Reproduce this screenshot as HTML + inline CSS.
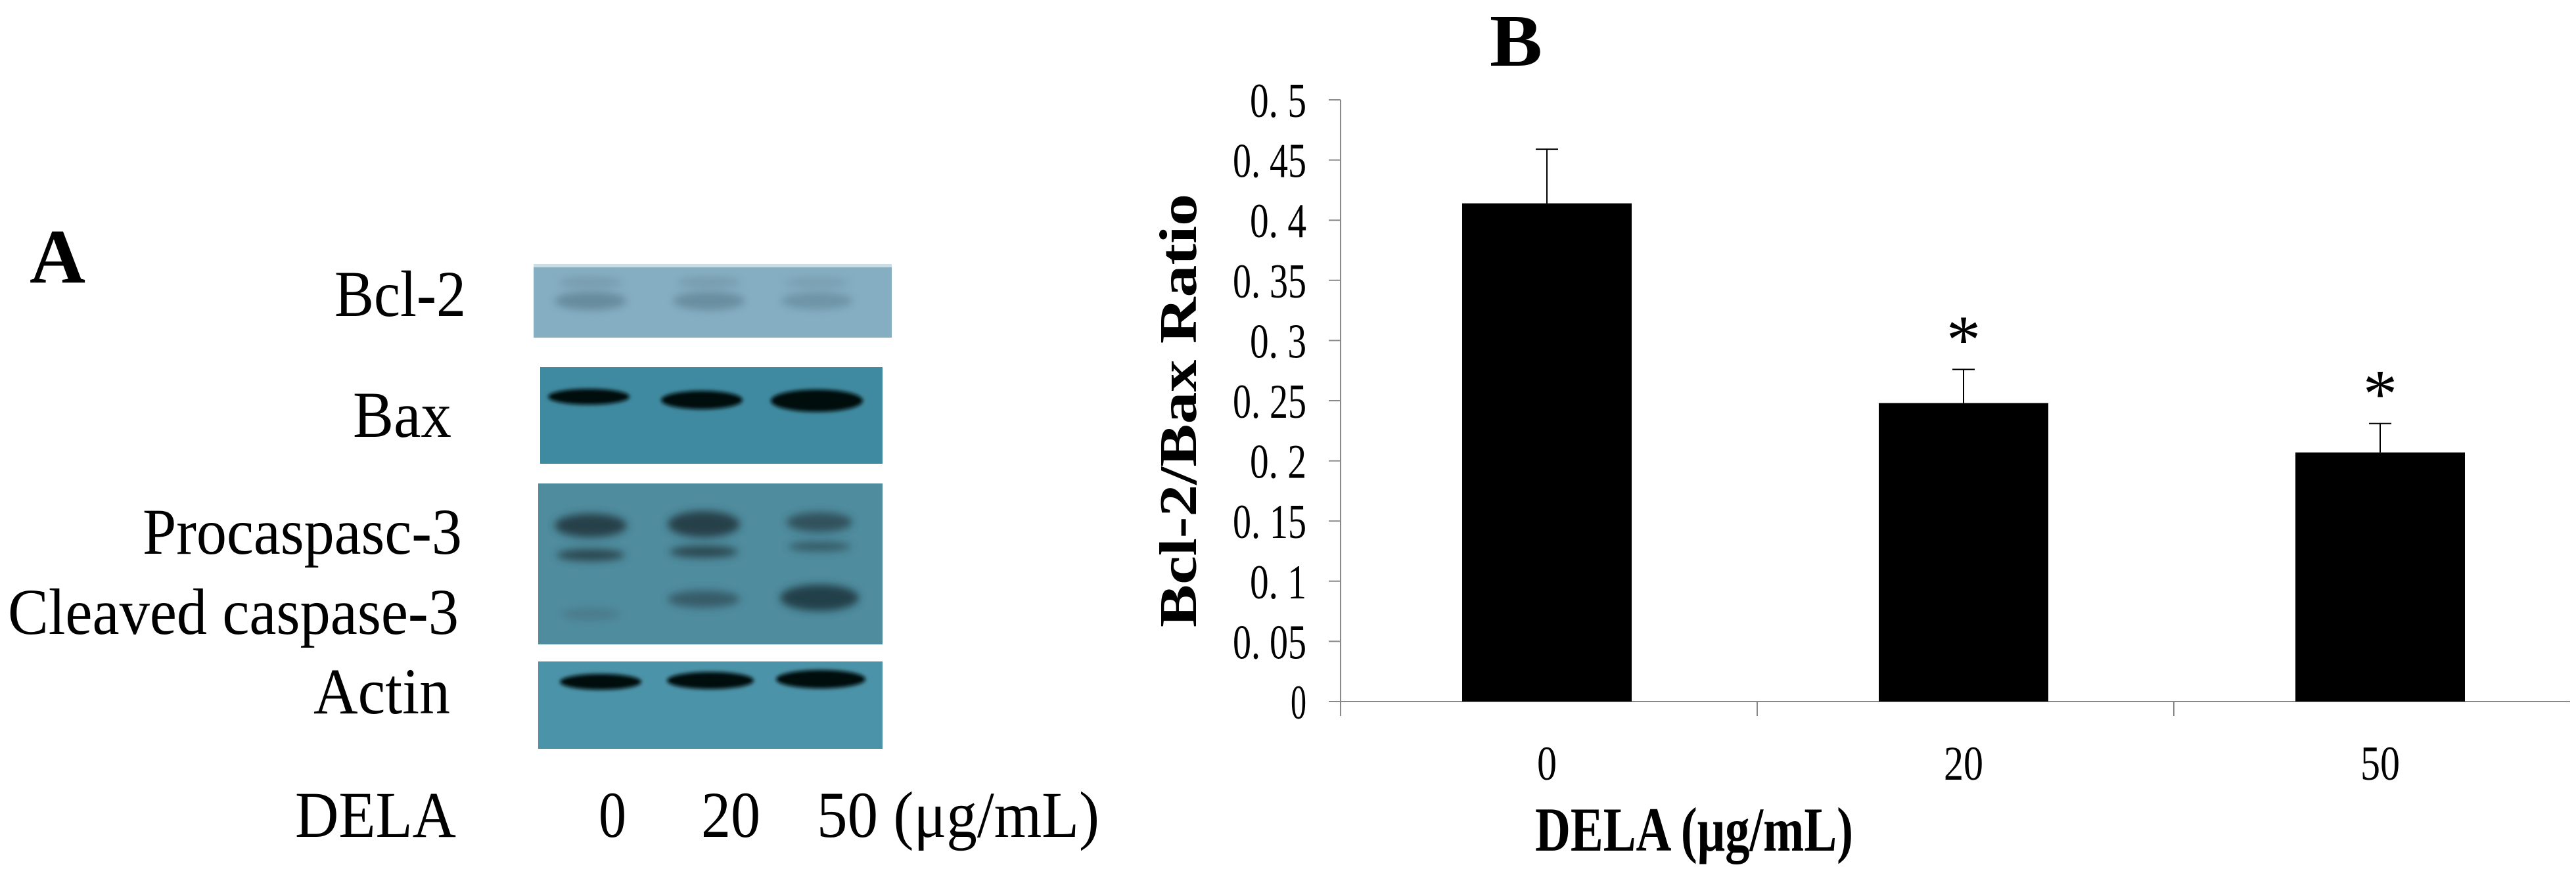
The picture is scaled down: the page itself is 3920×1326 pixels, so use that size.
<!DOCTYPE html>
<html><head><meta charset="utf-8"><style>
html,body{margin:0;padding:0;background:#fff;}
svg{display:block;}
text{font-family:"Liberation Serif",serif;fill:#000;}
</style></head><body>
<svg id="fig" width="3920" height="1326" viewBox="0 0 3920 1326" xmlns="http://www.w3.org/2000/svg">
<defs>
<filter id="blur" x="-30%" y="-100%" width="160%" height="300%"><feGaussianBlur stdDeviation="6"/></filter>
<filter id="blur2" x="-30%" y="-100%" width="160%" height="300%"><feGaussianBlur stdDeviation="3"/></filter>
</defs>
<!-- Panel A -->
<g>
<text x="45" y="430" font-size="118" font-weight="bold" textLength="85" lengthAdjust="spacingAndGlyphs">A</text>
<text x="709" y="481" font-size="100" text-anchor="end" textLength="200" lengthAdjust="spacingAndGlyphs">Bcl-2</text>
<text x="687" y="665" font-size="100" text-anchor="end" textLength="150" lengthAdjust="spacingAndGlyphs">Bax</text>
<text x="703" y="843" font-size="100" text-anchor="end" textLength="486" lengthAdjust="spacingAndGlyphs">Procaspasc-3</text>
<text x="698" y="965" font-size="100" text-anchor="end" textLength="686" lengthAdjust="spacingAndGlyphs">Cleaved caspase-3</text>
<text x="685" y="1086" font-size="100" text-anchor="end" textLength="208" lengthAdjust="spacingAndGlyphs">Actin</text>
<text x="449" y="1274" font-size="100" textLength="245" lengthAdjust="spacingAndGlyphs">DELA</text>
<text x="932" y="1274" font-size="100" text-anchor="middle" textLength="42" lengthAdjust="spacingAndGlyphs">0</text>
<text x="1112" y="1274" font-size="100" text-anchor="middle" textLength="90" lengthAdjust="spacingAndGlyphs">20</text>
<text x="1243" y="1274" font-size="100" textLength="430" lengthAdjust="spacingAndGlyphs">50 (μg/mL)</text>

<g>
<rect x="812" y="402" width="545" height="112" fill="#86aec2"/>
<rect x="812" y="402" width="545" height="5" fill="#c8dde6"/>
<ellipse cx="899" cy="458" rx="55" ry="14" fill="#5f8394" filter="url(#blur)" opacity="0.8"/>
<ellipse cx="1079" cy="458" rx="55" ry="14" fill="#5f8394" filter="url(#blur)" opacity="0.75"/>
<ellipse cx="1243" cy="458" rx="55" ry="13" fill="#5f8394" filter="url(#blur)" opacity="0.6"/>
<ellipse cx="899" cy="430" rx="50" ry="9" fill="#6f92a3" filter="url(#blur)" opacity="0.6"/>
<ellipse cx="1079" cy="430" rx="50" ry="9" fill="#6f92a3" filter="url(#blur)" opacity="0.6"/>
<ellipse cx="1243" cy="430" rx="50" ry="9" fill="#6f92a3" filter="url(#blur)" opacity="0.5"/>
</g>
<g>
<rect x="822" y="559" width="521" height="147" fill="#3f8aa0"/>
<ellipse cx="896" cy="604" rx="62" ry="12" fill="#050a0c" filter="url(#blur2)"/>
<ellipse cx="1068" cy="609" rx="62" ry="14" fill="#050a0c" filter="url(#blur2)"/>
<ellipse cx="1243" cy="610" rx="70" ry="17" fill="#050a0c" filter="url(#blur2)"/>
</g>
<g>
<rect x="819" y="736" width="524" height="245" fill="#4f8c9e"/>
<ellipse cx="899" cy="800" rx="55" ry="18" fill="#25404a" filter="url(#blur)"/>
<ellipse cx="1071" cy="798" rx="55" ry="20" fill="#25404a" filter="url(#blur)"/>
<ellipse cx="1247" cy="795" rx="50" ry="15" fill="#2e4b55" filter="url(#blur)" opacity="0.9"/>
<ellipse cx="899" cy="845" rx="52" ry="9" fill="#2a4650" filter="url(#blur)"/>
<ellipse cx="1071" cy="840" rx="52" ry="9" fill="#2a4650" filter="url(#blur)"/>
<ellipse cx="1247" cy="832" rx="48" ry="7" fill="#2e4b55" filter="url(#blur)" opacity="0.8"/>
<ellipse cx="1071" cy="912" rx="55" ry="13" fill="#355763" filter="url(#blur)" opacity="0.9"/>
<ellipse cx="1247" cy="910" rx="60" ry="20" fill="#22404a" filter="url(#blur)"/>
<ellipse cx="899" cy="935" rx="45" ry="9" fill="#4a7482" filter="url(#blur)" opacity="0.7"/>
</g>
<g>
<rect x="819" y="1007" width="524" height="133" fill="#4b93a8"/>
<ellipse cx="914" cy="1038" rx="62" ry="12" fill="#050808" filter="url(#blur2)"/>
<ellipse cx="1081" cy="1036" rx="66" ry="13" fill="#050808" filter="url(#blur2)"/>
<ellipse cx="1249" cy="1034" rx="68" ry="14" fill="#050808" filter="url(#blur2)"/>
</g>
</g>

<!-- Panel B -->
<g id="chart">
<text x="2307" y="100" font-size="112" font-weight="bold" text-anchor="middle" textLength="80" lengthAdjust="spacingAndGlyphs">B</text>
<text transform="translate(1820,625) rotate(-90)" font-size="80" font-weight="bold" text-anchor="middle" textLength="660" lengthAdjust="spacingAndGlyphs">Bcl-2/Bax Ratio</text>
<text x="2578" y="1295" font-size="95" font-weight="bold" text-anchor="middle" textLength="484" lengthAdjust="spacingAndGlyphs">DELA (μg/mL)</text>
<g id="axes"></g>
<g id="bars"></g>
</g>
</svg>
<script>
var categories = ["0", "20", "50"];
var values = [0.414, 0.248, 0.207];
var errors = [0.045, 0.028, 0.024];
var significant = [false, true, true];
var yTicks = [0, 0.05, 0.1, 0.15, 0.2, 0.25, 0.3, 0.35, 0.4, 0.45, 0.5];
var yTickLabels = ["0", "0. 05", "0. 1", "0. 15", "0. 2", "0. 25", "0. 3", "0. 35", "0. 4", "0. 45", "0. 5"];

var NS = "http://www.w3.org/2000/svg";
var X0 = 2040, X1 = 3911, Y0 = 1068, YTOP = 152, YMAX = 0.5;
var catW = 634, barW = 258;
function yScale(v){ return Y0 - (v / YMAX) * (Y0 - YTOP); }
function xCenter(i){ return X0 + catW * (i + 0.5); }
function mk(tag, attrs, parent){
  var e = document.createElementNS(NS, tag);
  for (var k in attrs) e.setAttribute(k, attrs[k]);
  parent.appendChild(e); return e;
}
var axes = document.getElementById("axes");
var bars = document.getElementById("bars");
var yAxis = mk("line", {x1:X0, y1:YTOP, x2:X0, y2:Y0+22, stroke:"#888", "stroke-width":2}, axes);


var xAxis = mk("line", {x1:X0-18, y1:Y0, x2:X1, y2:Y0, stroke:"#888", "stroke-width":2}, axes);


yTicks.forEach(function(t, i){
  var y = yScale(t);
  var tk = mk("line", {x1:X0-18, y1:y, x2:X0, y2:y, stroke:"#888", "stroke-width":2}, axes);
  
  
  var lab = yTickLabels[i];
  var w = lab.length === 1 ? 24 : (lab.length === 4 ? 86 : 112);
  var tx = mk("text", {x:1988, y:y+26, "font-size":74, "text-anchor":"end", textLength:w, lengthAdjust:"spacingAndGlyphs"}, axes);
  tx.textContent = lab;
  
  
});
categories.forEach(function(c, i){
  var sep = mk("line", {x1:X0+catW*(i+1), y1:Y0, x2:X0+catW*(i+1), y2:Y0+22, stroke:"#888", "stroke-width":2}, axes);
  
  
  var cx = xCenter(i) - 3;
  var yv = yScale(values[i]);
  var b = mk("rect", {x:cx-barW/2, y:yv, width:barW, height:Y0-yv, fill:"#000"}, bars);
  
  
  var ye = yScale(values[i] + errors[i]);
  var el = mk("line", {x1:cx, y1:yv, x2:cx, y2:ye, stroke:"#000", "stroke-width":2}, bars);
  
  
  var ec = mk("line", {x1:cx-17, y1:ye, x2:cx+17, y2:ye, stroke:"#000", "stroke-width":2}, bars);
  
  
  if (significant[i]) {
    var s = mk("text", {x:cx, y:ye-10, "font-size":105, "text-anchor":"middle"}, bars);
    s.textContent = "*";
    
    
  }
  var cl = mk("text", {x:cx, y:1187, "font-size":74, "text-anchor":"middle", textLength:(c.length*30), lengthAdjust:"spacingAndGlyphs"}, axes);
  cl.textContent = c;
  
  
});
</script>
</body></html>
